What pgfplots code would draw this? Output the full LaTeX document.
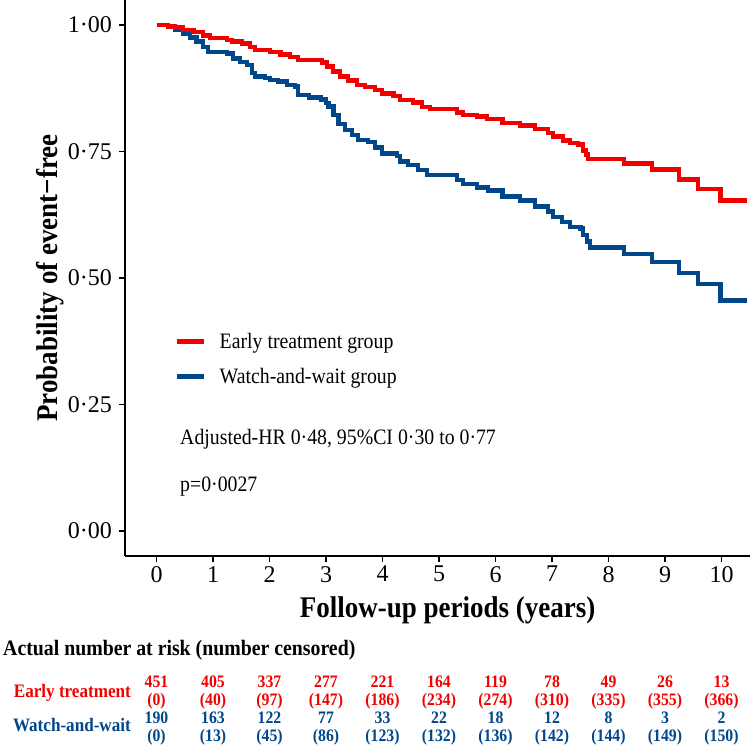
\documentclass[border=0pt]{standalone}
\usepackage{fontspec}
\setmainfont{Liberation Serif}[FakeStretch=0.9]
\newfontfamily\plainserif{Liberation Serif}
\usepackage{pgfplots}
\usepackage{pgfplotstable}
\pgfplotsset{compat=1.18}
\definecolor{ered}{HTML}{F20000}
\definecolor{wblue}{HTML}{00468B}

\pgfplotstableread{
t S
0 1.000
0.20 0.997
0.33 0.995
0.47 0.990
0.65 0.986
0.82 0.979
0.95 0.974
1.25 0.970
1.34 0.967
1.51 0.963
1.65 0.957
1.74 0.951
2.01 0.947
2.19 0.942
2.36 0.937
2.50 0.931
2.93 0.926
3.02 0.918
3.12 0.908
3.25 0.898
3.39 0.890
3.55 0.881
3.69 0.877
3.87 0.872
3.99 0.865
4.19 0.860
4.31 0.852
4.54 0.847
4.70 0.838
4.84 0.834
5.32 0.827
5.42 0.822
5.67 0.819
5.85 0.814
6.12 0.806
6.43 0.801
6.70 0.794
6.93 0.787
7.02 0.780
7.19 0.772
7.32 0.767
7.46 0.764
7.55 0.752
7.60 0.744
7.64 0.735
8.27 0.726
8.77 0.714
9.25 0.695
9.58 0.676
9.98 0.653
10.45 0.653
}\earlytab

\pgfplotstableread{
t S
0 1.000
0.20 0.997
0.33 0.990
0.47 0.983
0.59 0.975
0.71 0.967
0.82 0.957
0.91 0.947
1.25 0.944
1.35 0.934
1.48 0.927
1.60 0.921
1.69 0.905
1.74 0.898
1.92 0.895
2.01 0.891
2.15 0.888
2.31 0.881
2.45 0.878
2.50 0.862
2.70 0.857
2.91 0.853
3.00 0.846
3.04 0.839
3.13 0.822
3.22 0.804
3.34 0.792
3.46 0.783
3.57 0.773
3.74 0.769
3.87 0.758
3.99 0.746
4.26 0.741
4.31 0.730
4.45 0.723
4.63 0.713
4.79 0.704
5.32 0.694
5.42 0.686
5.67 0.679
5.87 0.673
6.12 0.661
6.43 0.653
6.70 0.641
6.93 0.631
7.02 0.621
7.18 0.611
7.32 0.601
7.50 0.598
7.55 0.585
7.62 0.572
7.67 0.560
8.27 0.547
8.77 0.532
9.25 0.510
9.58 0.488
9.98 0.456
10.45 0.456
}\waittab

\newcommand{\tabfont}{\bfseries\fontsize{17.5bp}{19bp}\selectfont}
\newcommand{\riskE}[3]{%
  \node[anchor=base, text=ered, font=\tabfont, inner sep=0pt] at (axis cs:#1,-0.3083) {#2};
  \node[anchor=base, text=ered, font=\tabfont, inner sep=0pt] at (axis cs:#1,-0.3458) {(#3)};}
\newcommand{\riskW}[3]{%
  \node[anchor=base, text=wblue, font=\tabfont, inner sep=0pt] at (axis cs:#1,-0.3795) {#2};
  \node[anchor=base, text=wblue, font=\tabfont, inner sep=0pt] at (axis cs:#1,-0.4150) {(#3)};}

\begin{document}
\begin{tikzpicture}
\useasboundingbox (-125bp,-189bp) rectangle (625bp,556bp);
\begin{axis}[
  at={(0,0)}, anchor=south west,
  scale only axis, width=625bp, height=556bp,
  xmin=-0.558, xmax=10.504, ymin=-0.0494, ymax=1.0494,
  axis x line*=bottom, axis y line*=left,
  axis line style={line width=1.8bp, black},
  tick align=outside, major tick length=6bp,
  tick style={line width=1.8bp, black},
  xtick={0,1,2,3,4,5,6,7,8,9,10},
  xticklabels={0,1,2,3,4,5,6,7,8,9,10},
  ytick={0,0.25,0.5,0.75,1},
  yticklabels={0·00,0·25,0·50,0·75,1·00},
  ticklabel style={font={\plainserif\fontsize{24bp}{28bp}\selectfont}},
  xticklabel style={inner sep=0pt, yshift=-4bp},
  yticklabel style={inner sep=0pt, xshift=-7bp},
  xlabel={Follow-up periods (years)},
  xlabel style={font={\bfseries\fontsize{30bp}{34bp}\selectfont}, at={(axis description cs:0.516,-0.1115)}, anchor=base, inner sep=0pt},
  ylabel={Probability of event−free},
  ylabel style={font={\bfseries\fontsize{30bp}{34bp}\selectfont}, at={(axis description cs:-0.12,0.5)}, anchor=center, inner sep=0pt},
  clip=false,
  legend style={draw=none, fill=none, at={(axis description cs:0.0752,0.4047)}, anchor=north west,
    font={\fontsize{22bp}{26bp}\selectfont}, row sep=18bp, column sep=13bp,
    nodes={inner sep=0pt}},
  legend cell align=left,
  legend image code/.code={\draw[#1, line width=4.5bp] (0bp,0bp) -- (27bp,0bp); \path (0bp,-8bp) -- (0bp,-8bp);},
]
\addplot[const plot, wblue, line width=4.5bp, forget plot] table[x=t, y=S] {\waittab};
\addplot[const plot, ered, line width=4.5bp, forget plot] table[x=t, y=S] {\earlytab};
\addlegendimage{ered}
\addlegendentry{Early treatment group}
\addlegendimage{wblue}
\addlegendentry{Watch-and-wait group}

\node[anchor=base west, inner sep=0pt, font={\fontsize{22bp}{26bp}\selectfont}] at (axis cs:0.416,0.1719) {Adjusted-HR 0·48, 95\%CI 0·30 to 0·77};
\node[anchor=base west, inner sep=0pt, font={\fontsize{22bp}{26bp}\selectfont}] at (axis cs:0.416,0.0771) {p=0·0027};

\node[anchor=base west, inner sep=0pt, font={\bfseries\fontsize{22bp}{26bp}\selectfont}] at (axis cs:-2.717,-0.2451) {Actual number at risk (number censored)};
\node[anchor=base east, inner sep=0pt, text=ered, font={\bfseries\fontsize{19bp}{22bp}\selectfont}] at (axis cs:-0.451,-0.3281) {Early treatment};
\node[anchor=base east, inner sep=0pt, text=wblue, font={\bfseries\fontsize{19bp}{22bp}\selectfont}] at (axis cs:-0.451,-0.3972) {Watch-and-wait};

\riskE{0}{451}{0}
\riskE{1}{405}{40}
\riskE{2}{337}{97}
\riskE{3}{277}{147}
\riskE{4}{221}{186}
\riskE{5}{164}{234}
\riskE{6}{119}{274}
\riskE{7}{78}{310}
\riskE{8}{49}{335}
\riskE{9}{26}{355}
\riskE{10}{13}{366}
\riskW{0}{190}{0}
\riskW{1}{163}{13}
\riskW{2}{122}{45}
\riskW{3}{77}{86}
\riskW{4}{33}{123}
\riskW{5}{22}{132}
\riskW{6}{18}{136}
\riskW{7}{12}{142}
\riskW{8}{8}{144}
\riskW{9}{3}{149}
\riskW{10}{2}{150}
\end{axis}
\end{tikzpicture}
\end{document}
